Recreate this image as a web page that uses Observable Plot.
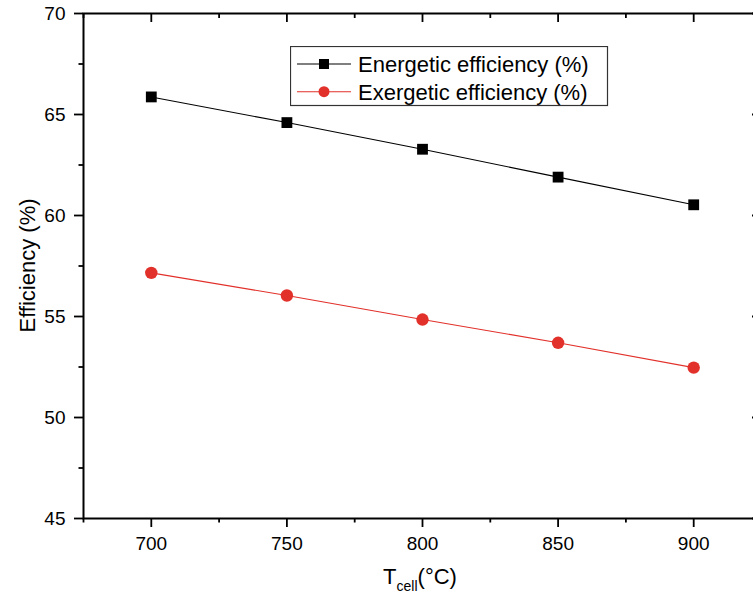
<!DOCTYPE html>
<html>
<head>
<meta charset="utf-8">
<script src="https://cdn.jsdelivr.net/npm/d3@7"></script>
<script src="https://cdn.jsdelivr.net/npm/@observablehq/plot@0.6"></script>
<style>
  html, body { margin: 0; padding: 0; background: #fff; }
  #wrap { position: relative; width: 753px; height: 596px; overflow: hidden; font-family: "Liberation Sans", Arial, sans-serif; }
  #wrap > svg { max-width: none !important; }
  #legend { position: absolute; left: 290px; top: 46px; }
</style>
</head>
<body>
<div id="wrap"></div>
<script>
// ---- data ----
const temps = [700, 750, 800, 850, 900];
const energetic = [65.87, 64.60, 63.28, 61.90, 60.53];
const exergetic = [57.16, 56.04, 54.85, 53.70, 52.47];
const seriesNames = ["Energetic efficiency (%)", "Exergetic efficiency (%)"];
const seriesColors = ["#000000", "#e2302a"];
const seriesSymbols = ["square", "circle"];
const xMajor = [700, 750, 800, 850, 900];
const xMinor = [675, 725, 775, 825, 875, 925];
const yMajor = [45, 50, 55, 60, 65, 70];
const yMinor = [47.5, 52.5, 57.5, 62.5, 67.5];

const rows = [];
temps.forEach((t, i) => {
  rows.push({T: t, v: energetic[i], s: seriesNames[0]});
  rows.push({T: t, v: exergetic[i], s: seriesNames[1]});
});
const en = rows.filter(d => d.s === seriesNames[0]);
const ex = rows.filter(d => d.s === seriesNames[1]);

const W = 770, H = 596, mL = 83, mR = 9, mT = 13, mB = 78;
const plotW = W - mL - mR, plotH = H - mT - mB;
const font = 19;

const chart = Plot.plot({
  width: W, height: H,
  marginLeft: mL, marginRight: mR, marginTop: mT, marginBottom: mB,
  style: {fontFamily: "'Liberation Sans', Arial, sans-serif", fontSize: font + "px", color: "#000", background: "#fff", maxWidth: "none"},
  x: {domain: [675, 925]},
  y: {domain: [45, 70]},
  marks: [
    Plot.line(en, {x: "T", y: "v", stroke: seriesColors[0], strokeWidth: 1.1}),
    Plot.line(ex, {x: "T", y: "v", stroke: seriesColors[1], strokeWidth: 1.1}),
    Plot.dot(en, {x: "T", y: "v", symbol: seriesSymbols[0], r: 6.1, fill: seriesColors[0], stroke: null}),
    Plot.dot(ex, {x: "T", y: "v", symbol: seriesSymbols[1], r: 6.2, fill: seriesColors[1], stroke: null}),
    // bottom axis
    Plot.axisX(xMajor, {anchor: "bottom", tickSize: 9, tickPadding: 9, strokeWidth: 1.8, fontSize: font, label: null}),
    Plot.axisX(xMinor, {anchor: "bottom", tickSize: 4.5, text: null, strokeWidth: 1.8, label: null}),
    // left axis
    Plot.axisY(yMajor, {anchor: "left", tickSize: 9, tickPadding: 9, strokeWidth: 1.8, fontSize: font, label: null}),
    Plot.axisY(yMinor, {anchor: "left", tickSize: 4.5, text: null, strokeWidth: 1.8, label: null}),
    // top inward ticks
    Plot.ruleX(xMajor, {insetBottom: plotH - 9, stroke: "#000", strokeWidth: 1.8}),
    Plot.ruleX(xMinor, {insetBottom: plotH - 5, stroke: "#000", strokeWidth: 1.8}),
    // right inward ticks
    Plot.ruleY(yMajor, {insetLeft: plotW - 9, stroke: "#000", strokeWidth: 1.8}),
    Plot.ruleY(yMinor, {insetLeft: plotW - 5, stroke: "#000", strokeWidth: 1.8}),
    Plot.frame({stroke: "#000", strokeWidth: 2})
  ]
});
chart.style.maxWidth = "none";

const wrap = document.getElementById("wrap");
wrap.appendChild(chart);

// axis titles
const svg = d3.select(chart);
svg.append("text")
  .attr("transform", `translate(35,${mT + plotH / 2}) rotate(-90)`)
  .attr("text-anchor", "middle")
  .attr("font-size", 22)
  .attr("fill", "#000")
  .text("Efficiency (%)");

const xt = svg.append("text")
  .attr("x", mL + plotW / 2 - 2)
  .attr("y", 584)
  .attr("text-anchor", "middle")
  .attr("font-size", 22)
  .attr("fill", "#000");
xt.append("tspan").text("T");
xt.append("tspan").attr("font-size", 14).attr("dy", 7).text("cell");
xt.append("tspan").attr("dy", -7).text("(°C)");

// legend
const lg = d3.select(wrap).append("svg")
  .attr("id", "legend")
  .attr("width", 320).attr("height", 62);
lg.append("rect")
  .attr("x", 0.5).attr("y", 0.5).attr("width", 317).attr("height", 59)
  .attr("fill", "#fff").attr("stroke", "#333").attr("stroke-width", 1.2);
seriesNames.forEach((name, i) => {
  const cy = 18 + i * 27.7;
  lg.append("line").attr("x1", 7).attr("x2", 61).attr("y1", cy).attr("y2", cy)
    .attr("stroke", seriesColors[i]).attr("stroke-width", 1.1);
  if (seriesSymbols[i] === "square") {
    lg.append("rect").attr("x", 34 - 5).attr("y", cy - 5).attr("width", 10).attr("height", 10)
      .attr("fill", seriesColors[i]);
  } else {
    lg.append("circle").attr("cx", 34).attr("cy", cy).attr("r", 5.5).attr("fill", seriesColors[i]);
  }
  lg.append("text").attr("x", 68).attr("y", cy + 8)
    .attr("font-size", 22).attr("fill", "#000")
    .attr("font-family", "'Liberation Sans', Arial, sans-serif")
    .text(name);
});
</script>
</body>
</html>
